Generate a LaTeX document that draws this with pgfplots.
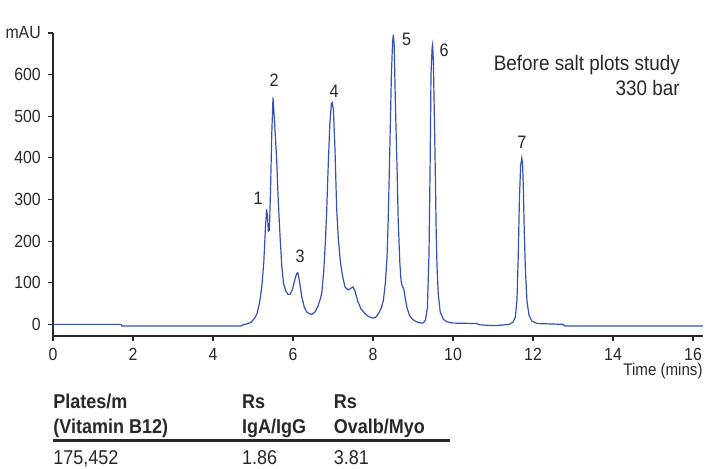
\documentclass[border=0pt]{standalone}
\usepackage{pgfplots}
\pgfplotsset{compat=1.18}
\usepackage{fontspec}
\setmainfont{Liberation Sans}[FakeStretch=0.9]
\definecolor{trace}{RGB}{55,80,185}
\definecolor{txt}{RGB}{40,40,40}

\begin{document}
\begin{tikzpicture}
\useasboundingbox (-26.5pt,-66pt) rectangle (326pt,168pt);
\begin{axis}[
  scale only axis, width=325pt, height=151.5pt,
  at={(0,0)}, anchor=south west,
  xmin=0, xmax=16.25, ymin=-28, ymax=700,
  axis lines*=left,
  axis line style={txt, line width=0.7pt},
  tick style={txt, line width=0.6pt},
  tick align=outside, major tick length=2.6pt,
  xtick={0,2,...,16},
  ytick={0,100,...,700},
  yticklabels={0,100,200,300,400,500,600,mAU},
  /pgf/number format/assume math mode=true,
  tick label style={font=\fontsize{8.8}{10}\selectfont, text=txt},
  clip=false,
]
\addplot[trace, line width=0.6pt] coordinates {
(0,0) (1.70,0) (1.72,-4) (4.70,-4) (4.75,-1) (4.85,1) (4.95,5) (5.05,16)
(5.10,26) (5.16,50) (5.22,90) (5.27,150) (5.31,230) (5.34,276) (5.36,262)
(5.385,224) (5.41,226) (5.44,330) (5.47,460) (5.50,545) (5.53,500) (5.56,450)
(5.59,400) (5.63,300) (5.68,205) (5.72,140) (5.76,100) (5.82,80) (5.88,72)
(5.93,72) (5.99,85) (6.04,105) (6.09,122) (6.12,124) (6.16,105) (6.22,66)
(6.28,42) (6.34,30) (6.40,26) (6.47,24) (6.55,30) (6.62,43) (6.68,60)
(6.72,76) (6.77,130) (6.81,200) (6.84,266) (6.88,380) (6.92,480) (6.96,530)
(6.98,533) (7.01,515) (7.05,420) (7.09,282) (7.13,210) (7.18,154) (7.24,115)
(7.30,90) (7.35,85) (7.39,83) (7.45,87) (7.50,90) (7.55,80) (7.62,55)
(7.70,37) (7.80,26) (7.90,18) (8.00,15) (8.08,18) (8.15,28) (8.21,40)
(8.26,58) (8.31,100) (8.35,160) (8.38,250) (8.42,420) (8.46,600) (8.49,680)
(8.51,696) (8.53,670) (8.56,530) (8.60,380) (8.63,250) (8.67,150) (8.70,105)
(8.73,92) (8.77,85) (8.80,66) (8.85,40) (8.91,22) (8.97,14) (9.05,8)
(9.15,4) (9.25,3) (9.31,10) (9.36,40) (9.40,170) (9.43,400) (9.45,602)
(9.48,668) (9.49,673) (9.51,630) (9.53,520) (9.55,410) (9.58,220) (9.60,140)
(9.63,74) (9.68,30) (9.76,12) (9.85,6) (10.0,3) (10.6,2) (10.65,-1)
(11.0,-3) (11.2,-2) (11.4,0) (11.5,5) (11.56,18) (11.60,60) (11.63,160)
(11.66,300) (11.69,380) (11.72,400) (11.74,385) (11.76,320) (11.78,230)
(11.81,130) (11.85,55) (11.90,22) (11.97,8) (12.1,2) (12.75,0) (12.8,-4)
(16.25,-4)
};
% peak numbers
\begin{scope}[every node/.style={font=\fontsize{9}{10}\selectfont, text=txt}]
\node at (axis cs:5.13,302) {1};
\node at (axis cs:5.53,586) {2};
\node at (axis cs:6.18,164) {3};
\node at (axis cs:7.03,560) {4};
\node at (axis cs:8.84,684) {5};
\node at (axis cs:9.78,659) {6};
\node at (axis cs:11.72,437) {7};
\end{scope}
\node[anchor=base east, inner sep=0pt, font=\fontsize{10.5}{12}\selectfont, text=txt]
  at (axis cs:15.68,610) {Before salt plots study};
\node[anchor=base east, inner sep=0pt, font=\fontsize{10.5}{12}\selectfont, text=txt]
  at (axis cs:15.68,550) {330 bar};
\end{axis}
% x axis title
\node[anchor=east, inner sep=0pt, font=\fontsize{8.4}{10}\selectfont, text=txt]
  at (325pt,-17.5pt) {Time (mins)};
% table below the chart
\begin{scope}[every node/.style={anchor=base west, inner sep=0pt, text=txt,
    font=\fontsize{10}{12}\selectfont}]
\node[font=\fontsize{10}{12}\selectfont\bfseries] at (0pt,-36pt) {Plates/m};
\node[font=\fontsize{10}{12}\selectfont\bfseries] at (0pt,-48.5pt) {(Vitamin B12)};
\node[font=\fontsize{10}{12}\selectfont\bfseries] at (94.3pt,-36pt) {Rs};
\node[font=\fontsize{10}{12}\selectfont\bfseries] at (94.3pt,-48.5pt) {IgA/IgG};
\node[font=\fontsize{10}{12}\selectfont\bfseries] at (140.2pt,-36pt) {Rs};
\node[font=\fontsize{10}{12}\selectfont\bfseries] at (140.2pt,-48.5pt) {Ovalb/Myo};
\node at (0pt,-64.2pt) {175,452};
\node at (94.3pt,-64.2pt) {1.86};
\node at (140.2pt,-64.2pt) {3.81};
\end{scope}
\draw[txt, line width=1.35pt] (0pt,-52.3pt) -- (198.5pt,-52.3pt);
\end{tikzpicture}
\end{document}
